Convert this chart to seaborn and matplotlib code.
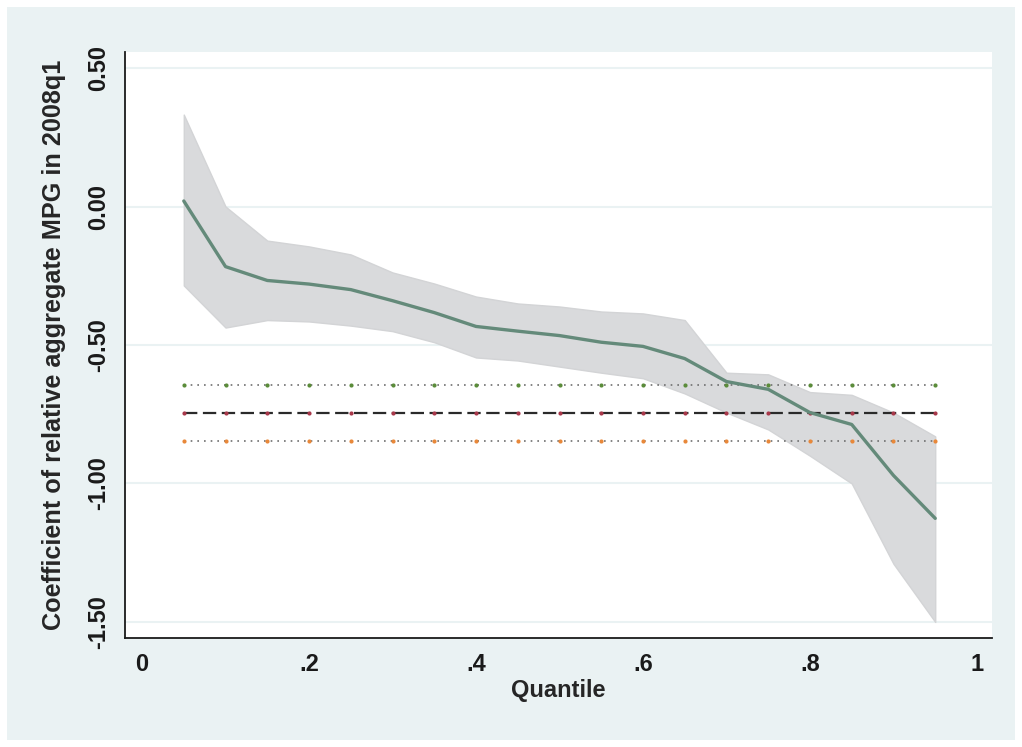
import matplotlib
matplotlib.use("Agg")
import matplotlib.pyplot as plt
import matplotlib.patches as mpatches
import numpy as np
import pandas as pd
import seaborn as sns

# quantiles and estimated coefficients
quantile = [0.05, 0.10, 0.15, 0.20, 0.25, 0.30, 0.35, 0.40, 0.45, 0.50,
            0.55, 0.60, 0.65, 0.70, 0.75, 0.80, 0.85, 0.90, 0.95]
coef = [0.02, -0.217, -0.267, -0.28, -0.30, -0.34, -0.383, -0.433, -0.45, -0.466,
        -0.49, -0.505, -0.549, -0.632, -0.66, -0.744, -0.787, -0.971, -1.126]
ci_upper = [0.332, 0.0, -0.123, -0.144, -0.173, -0.238, -0.278, -0.325, -0.35, -0.361,
            -0.379, -0.386, -0.41, -0.60, -0.606, -0.67, -0.68, -0.744, -0.83]
ci_lower = [-0.285, -0.437, -0.41, -0.415, -0.43, -0.45, -0.49, -0.545, -0.556, -0.578,
            -0.60, -0.62, -0.675, -0.744, -0.805, -0.90, -1.0, -1.29, -1.5]

# OLS estimate and its confidence bounds
ols_coef = -0.744
ols_upper = -0.643
ols_lower = -0.845

yticks = [0.5, 0.0, -0.5, -1.0, -1.5]
xticks = [0, 0.2, 0.4, 0.6, 0.8, 1.0]
xticklabels = ["0", ".2", ".4", ".6", ".8", "1"]

df = pd.DataFrame({"quantile": quantile, "coef": coef,
                   "upper": ci_upper, "lower": ci_lower})

sns.set_style("white")
plt.rcParams["font.family"] = ["Liberation Sans", "DejaVu Sans"]
plt.rcParams["font.weight"] = "bold"

bg = "#EAF2F3"
fig = plt.figure(figsize=(10.22, 7.47), dpi=100, facecolor="white")
fig.patches.append(mpatches.Rectangle((7 / 1022, 7 / 747), 1 - 14 / 1022, 1 - 14 / 747,
                                      transform=fig.transFigure, facecolor=bg,
                                      edgecolor="none", zorder=-10))
ax = fig.add_axes([125 / 1022, 1 - 638 / 747, 867 / 1022, 586 / 747])
ax.set_facecolor("white")

ax.fill_between(df["quantile"], df["lower"], df["upper"], color="#D9DADC",
                edgecolor="#D3D4D6", linewidth=1, zorder=1)
sns.lineplot(data=df, x="quantile", y="coef", ax=ax, color="#648A7A",
             linewidth=2.4, zorder=3)

qx = np.array(quantile)
for val, ls, lw, lc, mc in [
    (ols_upper, (0, (1, 3)), 1.2, "#6F6F6F", "#5B8C3A"),
    (ols_coef, (0, (6, 2.5)), 1.6, "#2A2A2A", "#A8384A"),
    (ols_lower, (0, (1, 3)), 1.2, "#6F6F6F", "#E8883A"),
]:
    yv = np.full(len(qx), val)
    ax.plot(qx, yv, linestyle=ls, linewidth=lw, color=lc, zorder=2)
    ax.plot(qx, yv, linestyle="none", marker="o", markersize=3,
            color=mc, markeredgewidth=0, zorder=2)

ax.set_xlim(-0.0204, 1.018)
ax.set_ylim(-1.558, 0.558)
ax.set_yticks(yticks)
ax.set_yticklabels([f"{v:.2f}" for v in yticks], rotation=90, va="center",
                   fontsize=17)
ax.set_xticks(xticks)
ax.set_xticklabels(xticklabels, fontsize=17)
ax.grid(axis="y", color="#EAF2F3", linewidth=1.5)
ax.grid(axis="x", visible=False)
ax.set_axisbelow(True)

for side in ["top", "right"]:
    ax.spines[side].set_visible(False)
for side in ["left", "bottom"]:
    ax.spines[side].set_color("#1A1A1A")
    ax.spines[side].set_linewidth(1.3)
ax.tick_params(axis="both", direction="out", length=7, width=1.3,
               color="#1A1A1A", labelcolor="#1A1A1A", pad=4)

ax.set_xlabel("Quantile", fontsize=17, fontweight="bold", labelpad=2)
ax.set_ylabel("Coefficient of relative aggregate MPG in 2008q1", fontsize=18.2,
              fontweight="bold", labelpad=15)

fig.savefig("out.png", dpi=100, facecolor=fig.get_facecolor())
